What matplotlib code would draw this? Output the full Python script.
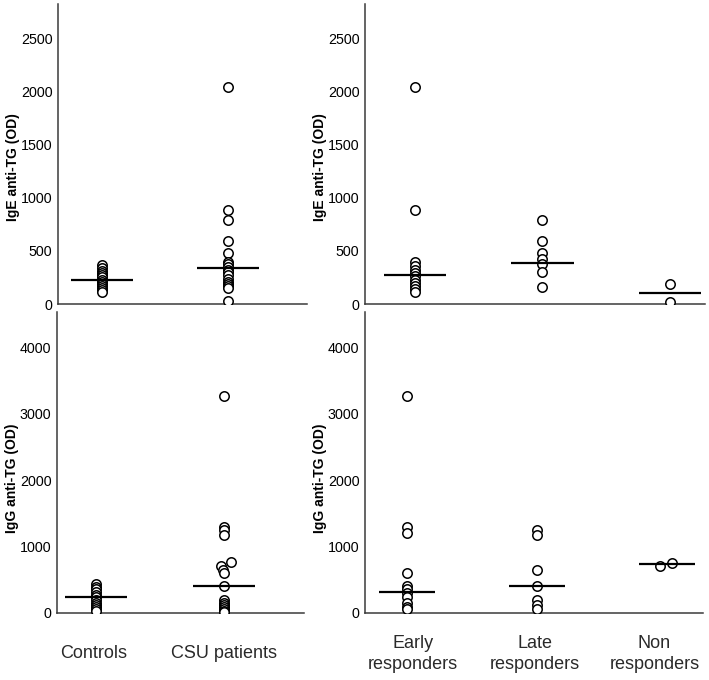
import numpy as np
import matplotlib
matplotlib.use("Agg")
import matplotlib.pyplot as plt

plt.rcParams["font.family"] = ["Liberation Sans", "DejaVu Sans"]

# IgE anti-TG (OD)
ige_controls = [370, 340, 310, 290, 270, 250, 230, 210, 190, 170, 150, 130, 110]
ige_csu = [2050, 890, 790, 590, 480, 400, 380, 350, 320, 300, 270, 240, 210, 190, 170, 150, 25]
ige_early = [2050, 890, 400, 360, 320, 290, 260, 230, 200, 170, 140, 110]
ige_late = [790, 590, 480, 420, 380, 300, 160]
ige_non = [190, 16]
ige_med_left = [230, 340]
ige_med_right = [270, 390, 107]

# IgG anti-TG (OD)
igg_controls = [430, 390, 350, 310, 270, 230, 190, 150, 110, 80, 50, 30]
igg_csu = [3270, 1290, 1250, 1170, 760, 710, 650, 600, 410, 190, 150, 110, 80, 50, 30, 10]
igg_csu_dx = [0, 0, 0, 0, 0.055, -0.025, -0.01, 0, 0, 0, 0, 0, 0, 0, 0, 0]
igg_early = [3270, 1300, 1200, 600, 410, 360, 300, 230, 150, 90, 60]
igg_late = [1250, 1170, 650, 410, 190, 120, 50]
igg_non = [700, 750]
igg_non_dx = [-0.05, 0.035]
igg_med_left = [240, 410]
igg_med_right = [317, 407, 729]

left_labels = ["Controls", "CSU patients"]
right_labels = ["Early\nresponders", "Late\nresponders", "Non\nresponders"]

W, H = 709, 680
fig = plt.figure(figsize=(W / 100, H / 100), dpi=100)


def make_ax(l, r, t, b):
    return fig.add_axes([l / W, 1 - b / H, (r - l) / W, (b - t) / H])


def style(ax, ylabel, yticks, ylim, xlim, label_y):
    for s in ["top", "right"]:
        ax.spines[s].set_visible(False)
    for s in ["left", "bottom"]:
        ax.spines[s].set_color("#3a3a3a")
        ax.spines[s].set_linewidth(1.1)
    ax.set_ylim(*ylim)
    ax.set_xlim(*xlim)
    ax.set_yticks(yticks)
    ax.tick_params(axis="y", length=0, pad=4, labelsize=10.3)
    ax.tick_params(axis="x", length=0)
    ax.set_ylabel(ylabel, fontsize=10, fontweight="bold", labelpad=0.5, y=label_y)


def draw(ax, groups, dxs, medians, half):
    for i, vals in enumerate(groups):
        dx = dxs[i] if dxs[i] is not None else [0] * len(vals)
        xs = [i + d for d in dx]
        ax.scatter(xs, vals, s=46, facecolors="white", edgecolors="black",
                   linewidths=1.1, zorder=3)
        ax.hlines(medians[i], i - half, i + half, color="black", lw=1.6, zorder=4)


# top left
ax1 = make_ax(58, 307, 4, 304)
draw(ax1, [ige_controls, ige_csu], [None, None], ige_med_left, 0.245)
style(ax1, "IgE anti-TG (OD)", [0, 500, 1000, 1500, 2000, 2500], (0, 2830), (-0.349, 1.627), 0.457)
ax1.set_xticks([])

# top right
ax2 = make_ax(365, 705, 4, 304)
draw(ax2, [ige_early, ige_late, ige_non], [None, None, None], ige_med_right, 0.245)
style(ax2, "IgE anti-TG (OD)", [0, 500, 1000, 1500, 2000, 2500], (0, 2830), (-0.392, 2.275), 0.457)
ax2.set_xticks([])

# bottom left
ax3 = make_ax(57, 304, 312, 612.7)
draw(ax3, [igg_controls, igg_csu], [None, igg_csu_dx], igg_med_left, 0.24)
style(ax3, "IgG anti-TG (OD)", [0, 1000, 2000, 3000, 4000], (0, 4535), (-0.305, 1.625), 0.448)
ax3.set_xticks([-0.02, 1.0])
ax3.set_xticklabels(left_labels, fontsize=13, color="#2a2a2a")
ax3.tick_params(axis="x", pad=23)

# bottom right
ax4 = make_ax(365, 703, 312, 612.7)
draw(ax4, [igg_early, igg_late, igg_non], [None, None, igg_non_dx], igg_med_right, 0.215)
style(ax4, "IgG anti-TG (OD)", [0, 1000, 2000, 3000, 4000], (0, 4535), (-0.323, 2.277), 0.448)
ax4.set_xticks([0.046, 0.985, 1.904])
ax4.set_xticklabels(right_labels, fontsize=13, color="#2a2a2a", linespacing=1.3)
ax4.tick_params(axis="x", pad=16)

fig.savefig("out.png", dpi=100)
